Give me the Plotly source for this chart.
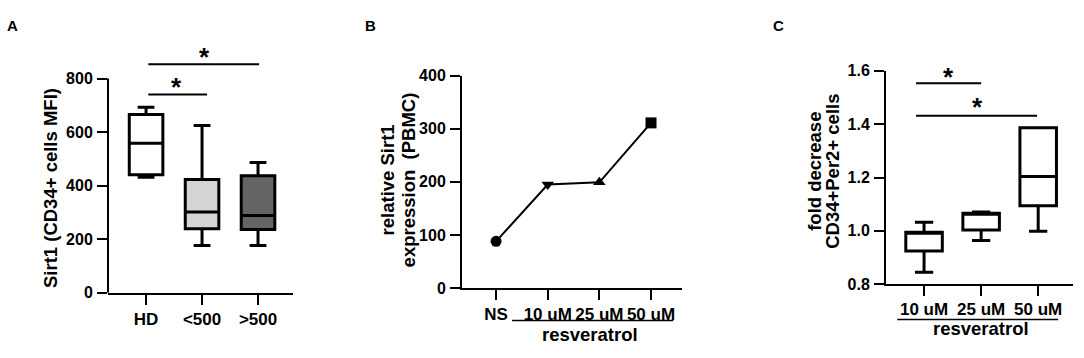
import plotly.graph_objects as go

W, H = 1084, 358

# ---------------- Data ----------------
# Panel A
a_categories = ["HD", "<500", ">500"]
a_lowerfence = [431, 177, 177]
a_q1 = [441, 239, 236]
a_median = [558, 302, 289]
a_q3 = [666, 423, 437]
a_upperfence = [693, 625, 486]
a_fill = ["#ffffff", "#d4d4d4", "#656565"]
a_yticks = [0, 200, 400, 600, 800]
a_sig_x0 = [0.04, 0.04]
a_sig_x1 = [1.09, 2.02]
a_sig_y = [740, 853]
a_star_x = [0.55, 1.04]
a_star_y = [789, 903]

# Panel B
b_categories = ["NS", "10 uM", "25 uM", "50 uM"]
b_values = [88, 195, 199, 311]
b_symbols = ["circle", "triangle-down", "triangle-up", "square"]
b_yticks = [0, 100, 200, 300, 400]
b_group_span = [0.31, 3.43]

# Panel C
c_categories = ["10 uM", "25 uM", "50 uM"]
c_lowerfence = [0.845, 0.964, 0.999]
c_q1 = [0.925, 1.003, 1.094]
c_median = [0.993, 1.066, 1.204]
c_q3 = [0.995, 1.066, 1.387]
c_upperfence = [1.032, 1.071, 1.387]
c_yticks = [0.8, 1.0, 1.2, 1.4, 1.6]
c_yticktext = ["0.8", "1.0", "1.2", "1.4", "1.6"]
c_sig_x0 = [-0.14, -0.14]
c_sig_x1 = [1.0, 1.98]
c_sig_y = [1.554, 1.432]
c_star_x = [0.42, 0.93]
c_star_y = [1.598, 1.486]
c_group_span = [-0.47, 2.35]

FONT = "Liberation Sans, Arial, sans-serif"


def px(x):
    return x / W


def py(y):
    return 1 - y / H


fig = go.Figure()

# ---- Panel A boxes
for i, cat in enumerate(a_categories):
    fig.add_trace(go.Box(
        x=[i], q1=[a_q1[i]], median=[a_median[i]], q3=[a_q3[i]],
        lowerfence=[a_lowerfence[i]], upperfence=[a_upperfence[i]],
        fillcolor=a_fill[i], line=dict(color="black", width=3),
        width=0.6, whiskerwidth=0.5, boxpoints=False, showlegend=False,
        xaxis="x", yaxis="y", hoverinfo="skip"))
for x0, x1, y in zip(a_sig_x0, a_sig_x1, a_sig_y):
    fig.add_trace(go.Scatter(x=[x0, x1], y=[y, y], mode="lines",
                             line=dict(color="black", width=2),
                             showlegend=False, xaxis="x", yaxis="y", hoverinfo="skip"))

# ---- Panel B line
fig.add_trace(go.Scatter(
    x=list(range(len(b_categories))), y=b_values, mode="lines+markers",
    line=dict(color="black", width=2),
    marker=dict(symbol=b_symbols, size=11, color="black"),
    showlegend=False, xaxis="x2", yaxis="y2", hoverinfo="skip", cliponaxis=False))

# ---- Panel C boxes
for i, cat in enumerate(c_categories):
    fig.add_trace(go.Box(
        x=[i], q1=[c_q1[i]], median=[c_median[i]], q3=[c_q3[i]],
        lowerfence=[c_lowerfence[i]], upperfence=[c_upperfence[i]],
        fillcolor="#ffffff", line=dict(color="black", width=3),
        width=0.64, whiskerwidth=0.5, boxpoints=False, showlegend=False,
        xaxis="x3", yaxis="y3", hoverinfo="skip"))
for x0, x1, y in zip(c_sig_x0, c_sig_x1, c_sig_y):
    fig.add_trace(go.Scatter(x=[x0, x1], y=[y, y], mode="lines",
                             line=dict(color="black", width=2),
                             showlegend=False, xaxis="x3", yaxis="y3", hoverinfo="skip"))

xtickfont = dict(family=FONT, size=17, color="black", weight="bold")
ytickfont = dict(family=FONT, size=16, color="black", weight="bold")

xcommon = dict(showline=True, linecolor="black", linewidth=2, ticks="outside",
               ticklen=10, tickwidth=2, tickcolor="black", showgrid=False,
               zeroline=False, tickfont=xtickfont, fixedrange=True)
ycommon = dict(ticks="outside", ticklen=10, tickwidth=2, tickcolor="black",
               showgrid=False, zeroline=False, tickfont=ytickfont, fixedrange=True,
               ticklabelstandoff=1)

fig.update_layout(
    width=W, height=H, margin=dict(l=0, r=0, t=0, b=0),
    paper_bgcolor="white", plot_bgcolor="white",
    xaxis=dict(domain=[px(108), px(293)], range=[-0.68, 2.625],
               tickvals=list(range(len(a_categories))), ticktext=a_categories,
               anchor="y", **xcommon),
    yaxis=dict(domain=[py(299), py(40)], range=[0, 921], tickvals=a_yticks,
               showline=False, anchor="x", **ycommon),
    xaxis2=dict(domain=[px(462), px(682)], range=[-0.66, 3.6],
                tickvals=list(range(len(b_categories))), ticktext=b_categories,
                anchor="y2", **xcommon),
    yaxis2=dict(domain=[py(294), py(71)], range=[0, 400], tickvals=b_yticks,
                showline=True, linecolor="black", linewidth=2, anchor="x2", **ycommon),
    xaxis3=dict(domain=[px(886), px(1073)], range=[-0.667, 2.61],
                tickvals=list(range(len(c_categories))), ticktext=c_categories,
                anchor="y3", ticklabelstandoff=-2, **xcommon),
    yaxis3=dict(domain=[py(290), py(66)], range=[0.8, 1.6], tickvals=c_yticks,
                ticktext=c_yticktext,
                showline=True, linecolor="black", linewidth=2, anchor="x3", **ycommon),
)

shapes = [
    # Panel A y-axis line (stops at the top tick)
    dict(type="line", xref="x domain", yref="y", x0=0, x1=0, y0=0, y1=a_yticks[-1],
         line=dict(color="black", width=2)),
    # resveratrol grouping lines
    dict(type="line", xref="x2", yref="paper", x0=b_group_span[0], x1=b_group_span[1],
         y0=py(328), y1=py(328), line=dict(color="black", width=1.5)),
    dict(type="line", xref="x3", yref="paper", x0=c_group_span[0], x1=c_group_span[1],
         y0=py(327), y1=py(327), line=dict(color="black", width=1.5)),
]
fig.update_layout(shapes=shapes)

annotations = []
titlefont = dict(family=FONT, size=18.5, color="black", weight="bold")


def vtitle(text, x, y):
    annotations.append(dict(text=text, xref="paper", yref="paper", x=px(x), y=py(y),
                            textangle=-90, showarrow=False, xanchor="center",
                            yanchor="middle", font=titlefont))


vtitle("Sirt1 (CD34+ cells MFI)", 50, 189)
vtitle("relative Sirt1", 387, 181)
vtitle("expression  (PBMC)", 408, 181)
vtitle("fold decrease", 815, 172)
vtitle("CD34+Per2+ cells", 833, 172)

for lab, x in (("A", 12), ("B", 370), ("C", 778)):
    annotations.append(dict(text=lab, xref="paper", yref="paper", x=px(x), y=py(18),
                            showarrow=False, xanchor="center", yanchor="middle",
                            font=dict(family=FONT, size=15, color="black", weight="bold")))

annotations.append(dict(text="resveratrol", xref="x2", yref="paper",
                        x=sum(b_group_span) / 2 - 0.05, y=py(343), showarrow=False,
                        xanchor="center", yanchor="middle", font=titlefont))
annotations.append(dict(text="resveratrol", xref="x3", yref="paper",
                        x=1.0, y=py(337), showarrow=False,
                        xanchor="center", yanchor="middle", font=titlefont))

starfont = dict(family=FONT, size=26, color="black", weight="bold")
for x, y in zip(a_star_x, a_star_y):
    annotations.append(dict(text="*", xref="x", yref="y", x=x, y=y, showarrow=False,
                            xanchor="center", yanchor="middle", yshift=-6, font=starfont))
for x, y in zip(c_star_x, c_star_y):
    annotations.append(dict(text="*", xref="x3", yref="y3", x=x, y=y, showarrow=False,
                            xanchor="center", yanchor="middle", yshift=-6, font=starfont))

fig.update_layout(annotations=annotations)

fig.write_html("out.html", config={"displayModeBar": False},
               post_script="document.body.style.margin='0px';document.body.style.padding='0px';")
